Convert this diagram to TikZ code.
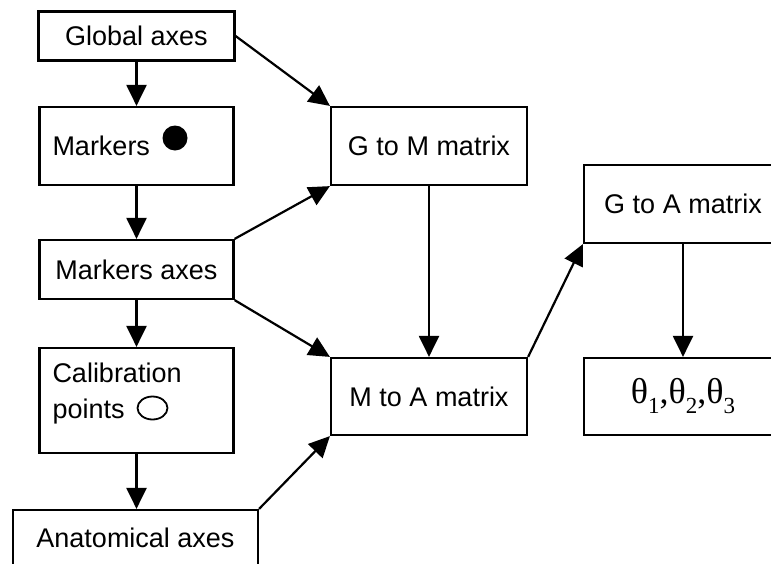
\documentclass[tikz,border=0pt]{standalone}
\usepackage{fontspec}
\setmainfont{Liberation Sans}
\newfontfamily\thetafont{Liberation Serif}
\usetikzlibrary{arrows.meta}
\newcommand{\lowidx}[1]{\raisebox{-10pt}{\fontsize{23}{23}\selectfont #1}}
\begin{document}
\begin{tikzpicture}[x=1pt,y=-1pt,
  box/.style={draw,line width=2.2pt,inner sep=0pt,font=\fontsize{27}{36}\selectfont},
  link/.style={line width=2.2pt,-{Triangle[length=21pt,width=20pt]}}]
\clip (0,0) rectangle (771,563);
\node[box,minimum width=196pt,minimum height=49pt] (global) at (136.5,36) {Global axes};
\node[box,minimum width=194pt,minimum height=78pt,text width=168pt,align=left] (markers) at (136.5,146) {Markers};
\node[box,minimum width=194pt,minimum height=59pt] (maxes) at (136.5,269.5) {Markers axes};
\node[box,minimum width=194pt,minimum height=105pt,text width=168pt,align=left,text depth=55pt] (calib) at (136.5,400.5) {Calibration\\points};
\node[box,minimum width=245pt,minimum height=56pt] (anat) at (135.5,538) {Anatomical axes};
\node[box,minimum width=196pt,minimum height=78pt] (gm) at (429,146) {G to M matrix};
\node[box,minimum width=196pt,minimum height=77pt] (ma) at (429,396.5) {M to A matrix};
\node[box,minimum width=198pt,minimum height=78pt] (ga) at (683,204) {G to A matrix};
\node[box,minimum width=198pt,minimum height=77pt,font=\thetafont\fontsize{36}{40}\selectfont] (angles) at (683,396.5) {θ\lowidx{1},θ\lowidx{2},θ\lowidx{3}};
\fill ([xshift=38.5pt,yshift=8pt]markers.center) circle (12.5pt);
\draw[line width=1.8pt] ([xshift=16pt,yshift=-7.5pt]calib.center) ellipse (15pt and 11.5pt);
\draw[link] (global.south) -- (markers.north);
\draw[link] (markers.south) -- (maxes.north);
\draw[link] (maxes.south) -- (calib.north);
\draw[link] (calib.south) -- (calib.south |- anat.north);
\draw[link] (global.east) -- (gm.north west);
\draw[link] (maxes.north east) -- (gm.south west);
\draw[link] (maxes.south east) -- (ma.north west);
\draw[link] (anat.north east) -- (ma.south west);
\draw[link] (gm.south) -- (ma.north);
\draw[link] (ma.north east) -- (ga.south west);
\draw[link] (ga.south) -- (angles.north);
\end{tikzpicture}
\end{document}
